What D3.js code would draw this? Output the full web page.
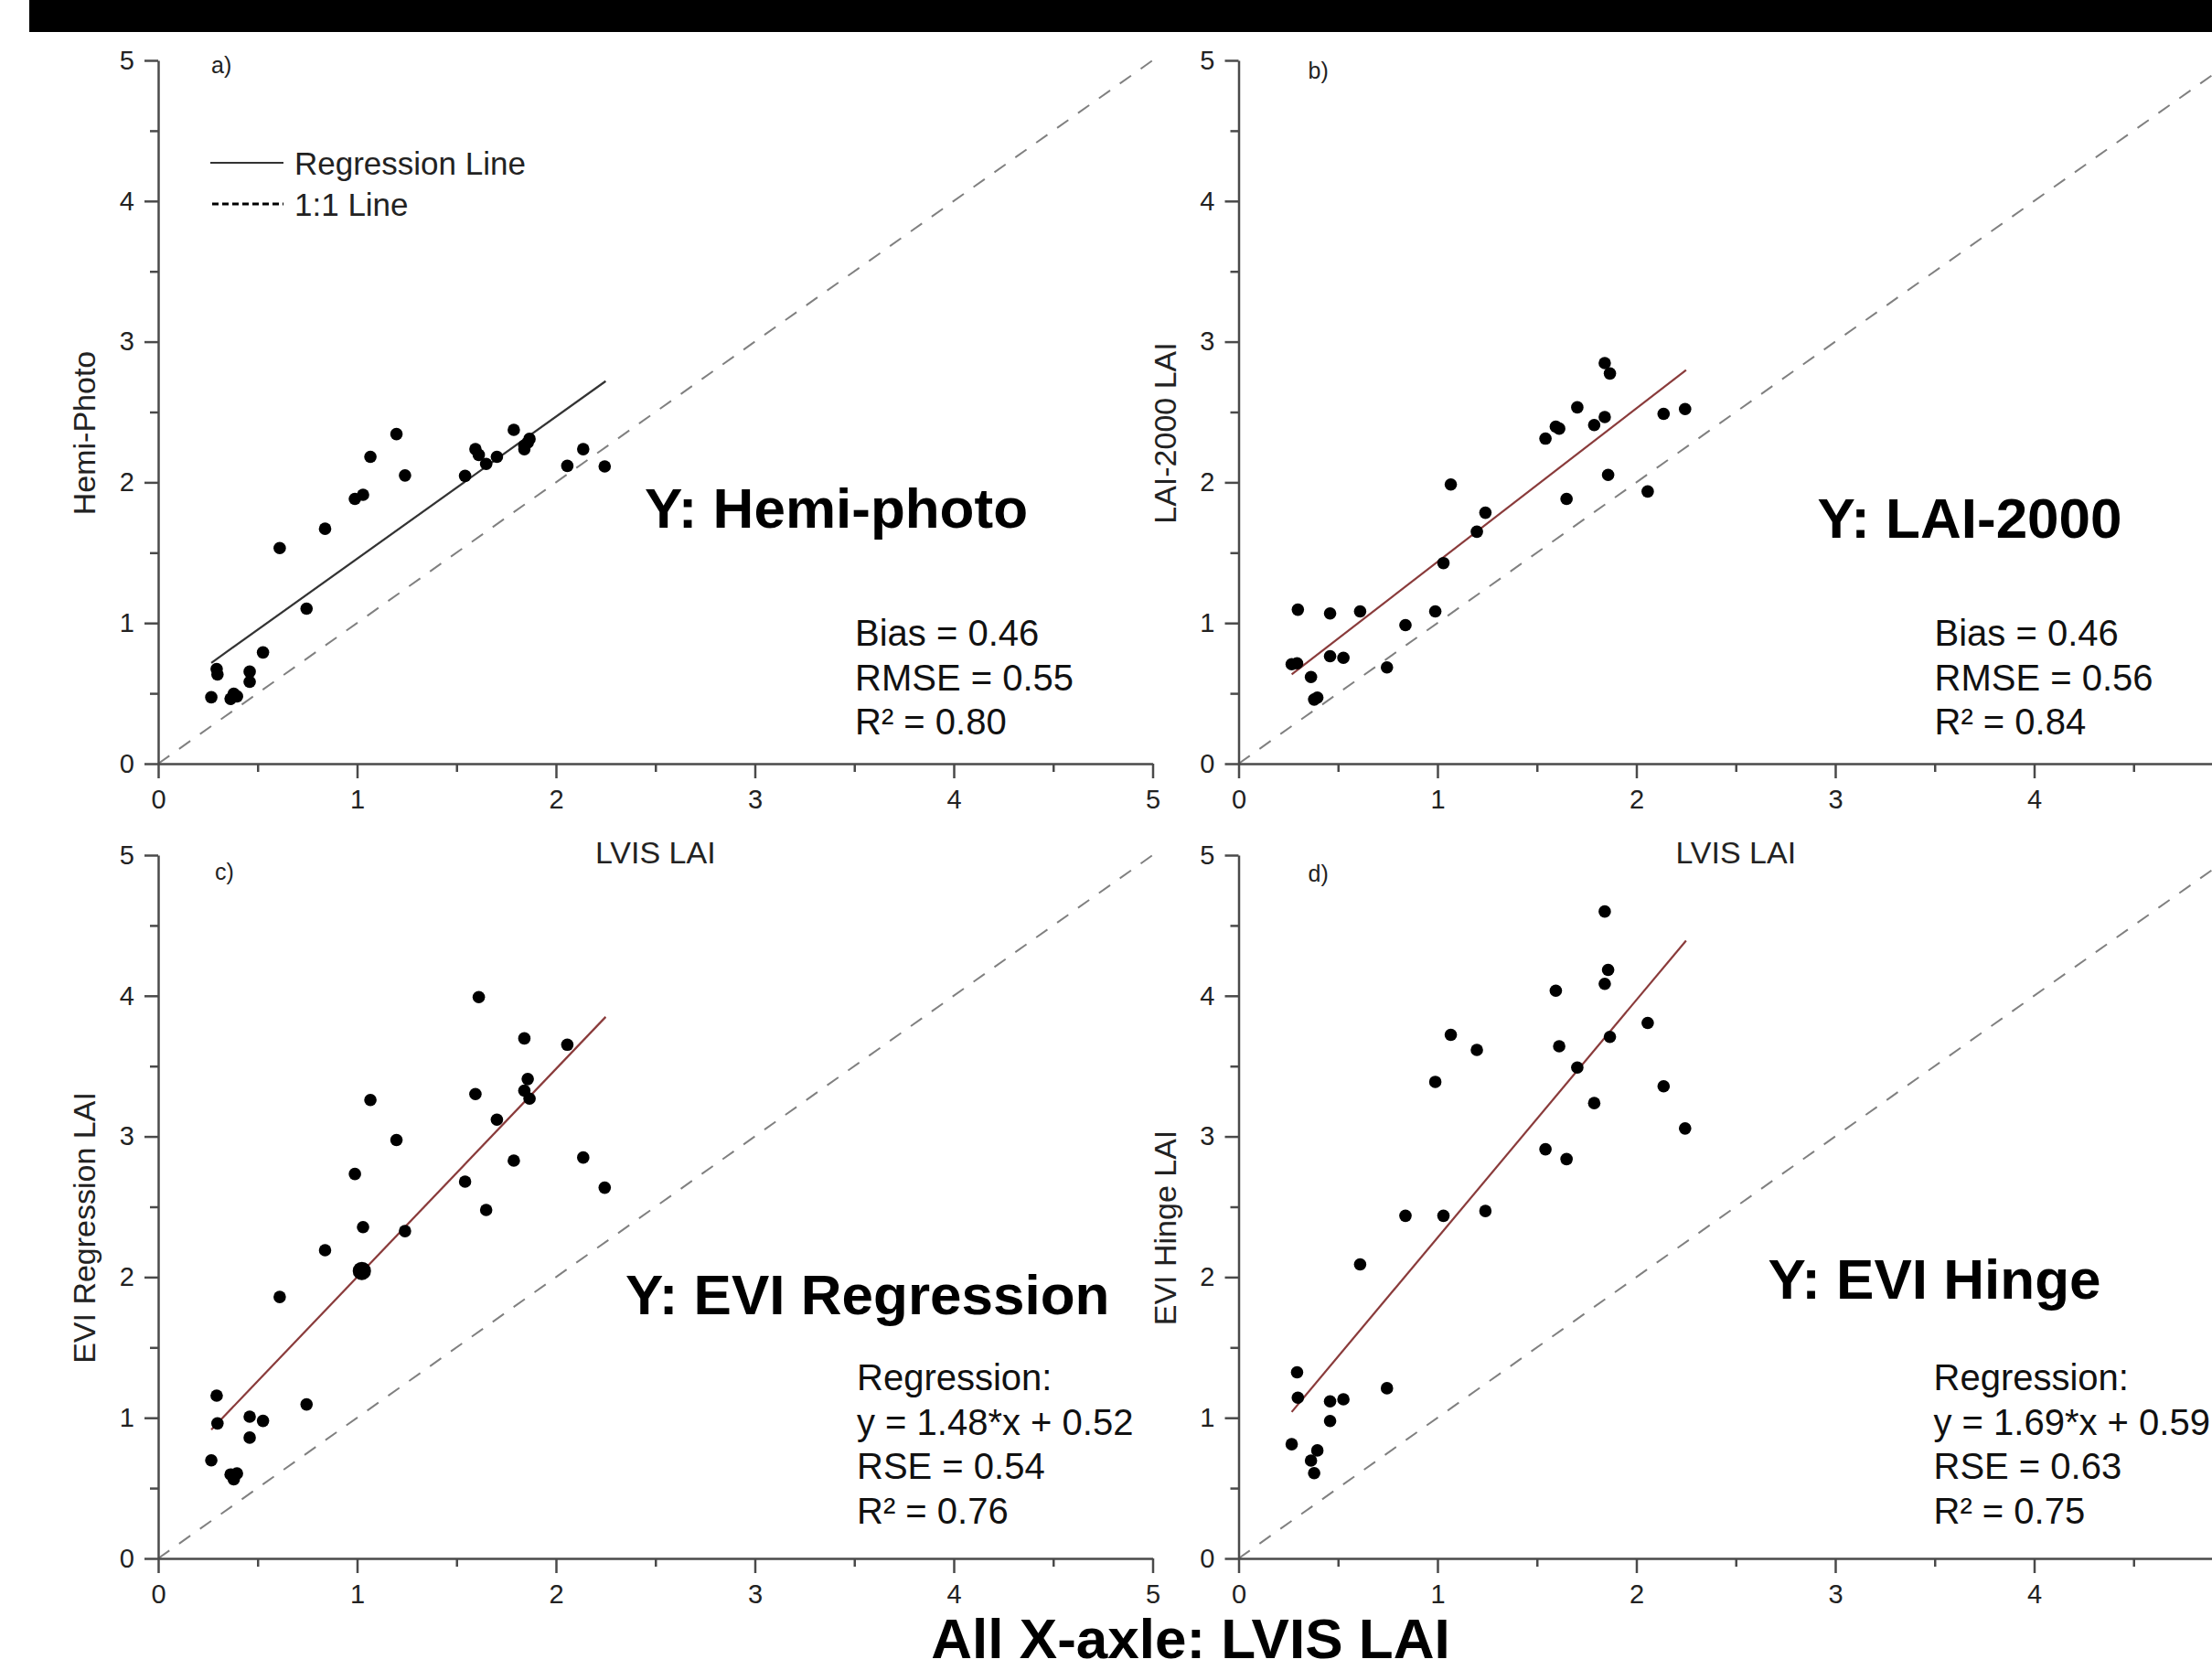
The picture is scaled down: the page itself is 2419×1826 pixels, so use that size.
<!DOCTYPE html>
<html>
<head>
<meta charset="utf-8">
<script src="https://cdn.jsdelivr.net/npm/d3@7"></script>
<style>
    html, body { margin: 0; padding: 0; background: #fff; }
    svg { display: block; font-family: 'Liberation Sans', Arial, sans-serif; }
</style>
</head>
<body>
<svg id="chart" width="2419" height="1826"></svg>
<script>
(function () {
    'use strict';

    // LVIS LAI (shared x of every panel)
    const lvis_lai = [0.267, 0.294, 0.298, 0.364, 0.380, 0.396, 0.460, 0.460, 0.527, 0.611,
        0.746, 0.839, 0.989, 1.030, 1.067, 1.198, 1.241, 1.543, 1.595, 1.612,
        1.649, 1.703, 1.788, 1.841, 1.841, 1.858, 1.867, 2.057, 2.137, 2.245];

    const hemi_photo = [0.472, 0.673, 0.634, 0.461, 0.497, 0.479, 0.654, 0.582, 0.791, 1.533,
        1.102, 1.670, 1.882, 1.912, 2.181, 2.343, 2.049, 2.046, 2.236, 2.195,
        2.131, 2.181, 2.373, 2.236, 2.260, 2.282, 2.309, 2.117, 2.236, 2.113];

    const lai_2000 = [0.707, 0.714, 1.095, 0.616, 0.456, 0.470, 1.068, 0.764, 0.753, 1.083,
        0.684, 0.985, 1.083, 1.426, 1.985, 1.649, 1.784, 2.311, 2.396, 2.382,
        1.882, 2.533, 2.407, 2.464, 2.848, 2.053, 2.774, 1.935, 2.487, 2.521];

    const evi_regression = [0.697, 1.157, 0.960, 0.597, 0.562, 0.604, 1.008, 0.859, 0.978, 1.859,
        1.095, 2.191, 2.733, 2.355, 3.259, 2.975, 2.327, 2.679, 3.301, 3.991,
        2.477, 3.119, 2.828, 3.697, 3.326, 3.408, 3.269, 3.652, 2.850, 2.636];

    const evi_hinge = [0.812, 1.323, 1.143, 0.696, 0.606, 0.768, 1.117, 0.977, 1.131, 2.090,
        1.210, 2.436, 3.388, 2.436, 3.722, 3.615, 2.470, 2.909, 4.036, 3.641,
        2.839, 3.490, 3.237, 4.599, 4.085, 4.184, 3.708, 3.807, 3.357, 3.057];

    // the one enlarged marker in panel c
    const evi_reg_big_x = [1.024];
    const evi_reg_big_y = [2.044];

    // regression fits: slope, intercept, x range
    const fit_slope = [1.01, 1.091, 1.48, 1.69];
    const fit_intercept = [0.447, 0.344, 0.52, 0.59];
    const fit_range = [0.267, 2.25];

    const major_ticks = [0, 1, 2, 3, 4, 5];
    const minor_ticks = [0.5, 1.5, 2.5, 3.5, 4.5];

    const stats_a = ['Bias = 0.46', 'RMSE = 0.55', 'R\u00b2 = 0.80'];
    const stats_b = ['Bias = 0.46', 'RMSE = 0.56', 'R\u00b2 = 0.84'];
    const stats_c = ['Regression:', 'y = 1.48*x + 0.52', 'RSE = 0.54', 'R\u00b2 = 0.76'];
    const stats_d = ['Regression:', 'y = 1.69*x + 0.59', 'RSE = 0.63', 'R\u00b2 = 0.75'];

    const legend_items = ['Regression Line', '1:1 Line'];

    const sv = d3.select('#chart');
    const sv_wi = 2419;
    const wi = 1087.5;
    const he = 769;
    const ax_co = '#4a4a4a';

    const x_sc = d3.scaleLinear().domain([0, 5]).range([0, wi]);
    const y_sc = d3.scaleLinear().domain([0, 5]).range([he, 0]);

    // top black band
    sv.append('rect')
        .attr('x', 32).attr('y', 0)
        .attr('width', sv_wi - 32).attr('height', 35)
        .attr('fill', '#000');

    const pa = [
        { id: 'a)', ys: hemi_photo, yl: 'Hemi-Photo', le: 173, bo: 835, lx: 58, ly: 14,
          fc: '#333', st: stats_a, sx: 762, sy: 706, ti: 'Y: Hemi-photo', tx: 532, ty: 577, xl: true },
        { id: 'b)', ys: lai_2000, yl: 'LAI-2000 LAI', le: 1354.5, bo: 835, lx: 76, ly: 20,
          fc: '#8a3b3b', st: stats_b, sx: 761, sy: 706, ti: 'Y: LAI-2000', tx: 633, ty: 588, xl: true },
        { id: 'c)', ys: evi_regression, yl: 'EVI Regression LAI', le: 173, bo: 1704, lx: 62, ly: 27,
          fc: '#8a3b3b', st: stats_c, sx: 764, sy: 1520, ti: 'Y: EVI Regression', tx: 511, ty: 1437, xl: false },
        { id: 'd)', ys: evi_hinge, yl: 'EVI Hinge LAI', le: 1354.5, bo: 1704, lx: 76, ly: 29,
          fc: '#8a3b3b', st: stats_d, sx: 760, sy: 1520, ti: 'Y: EVI Hinge', tx: 579, ty: 1420, xl: false }
    ];

    pa.forEach((p, pi) => {
        const gr = sv.append('g')
            .attr('transform', `translate(${p.le},${p.bo - he})`);

        // 1:1 line
        gr.append('line')
            .attr('x1', x_sc(0)).attr('y1', y_sc(0))
            .attr('x2', x_sc(5)).attr('y2', y_sc(5))
            .attr('stroke', '#808080')
            .attr('stroke-width', 2)
            .attr('stroke-dasharray', '15,13');

        // axes
        const x_mi = gr.append('g')
            .attr('transform', `translate(0,${he})`)
            .call(d3.axisBottom(x_sc).tickValues(minor_ticks).tickSize(9).tickFormat(''));
        const y_mi = gr.append('g')
            .call(d3.axisLeft(y_sc).tickValues(minor_ticks).tickSize(9).tickFormat(''));
        const x_ax = gr.append('g')
            .attr('transform', `translate(0,${he})`)
            .call(d3.axisBottom(x_sc).tickValues(major_ticks).tickFormat(d3.format('d'))
                .tickSize(16).tickSizeOuter(0).tickPadding(12));
        const y_ax = gr.append('g')
            .call(d3.axisLeft(y_sc).tickValues(major_ticks).tickFormat(d3.format('d'))
                .tickSize(15).tickSizeOuter(0).tickPadding(11));

        [x_mi, y_mi, x_ax, y_ax].forEach(a => {
            a.selectAll('path, line').attr('stroke', ax_co).attr('stroke-width', 2.5);
            a.selectAll('text')
                .attr('fill', '#222')
                .style('font-family', "'Liberation Sans', Arial, sans-serif")
                .style('font-size', '29px');
        });
        x_mi.select('.domain').remove();
        y_mi.select('.domain').remove();

        // tick labels that fall past the page edge are not shown in the original
        x_ax.selectAll('.tick')
            .filter(d => p.le + x_sc(d) > sv_wi)
            .select('text').remove();

        // regression line
        const sl = fit_slope[pi];
        const ic = fit_intercept[pi];
        gr.append('line')
            .attr('x1', x_sc(fit_range[0])).attr('y1', y_sc(sl * fit_range[0] + ic))
            .attr('x2', x_sc(fit_range[1])).attr('y2', y_sc(sl * fit_range[1] + ic))
            .attr('stroke', p.fc)
            .attr('stroke-width', 2.2);

        // points
        gr.selectAll('.pt')
            .data(lvis_lai.map((x, i) => ({ x: x, y: p.ys[i] })))
            .enter()
            .append('circle')
            .attr('class', 'pt')
            .attr('cx', d => x_sc(d.x))
            .attr('cy', d => y_sc(d.y))
            .attr('r', 6.8)
            .attr('fill', '#000');

        if (p.id === 'c)') {
            gr.selectAll('.pt-big')
                .data(evi_reg_big_x.map((x, i) => ({ x: x, y: evi_reg_big_y[i] })))
                .enter()
                .append('circle')
                .attr('class', 'pt-big')
                .attr('cx', d => x_sc(d.x))
                .attr('cy', d => y_sc(d.y))
                .attr('r', 10)
                .attr('fill', '#000');
        }

        // panel letter
        gr.append('text')
            .attr('x', p.lx)
            .attr('y', p.ly)
            .style('font-size', '25px')
            .attr('fill', '#222')
            .text(p.id);

        // y label
        gr.append('text')
            .attr('transform', `translate(-69,${he / 2 + 23}) rotate(-90)`)
            .attr('text-anchor', 'middle')
            .style('font-size', '34px')
            .attr('fill', '#222')
            .text(p.yl);

        // x label (top row only)
        if (p.xl) {
            gr.append('text')
                .attr('x', x_sc(2.5))
                .attr('y', he + 109)
                .attr('text-anchor', 'middle')
                .style('font-size', '34px')
                .attr('fill', '#222')
                .text('LVIS LAI');
        }

        // statistics
        gr.append('g')
            .selectAll('text')
            .data(p.st)
            .enter()
            .append('text')
            .attr('x', p.sx)
            .attr('y', (d, i) => p.sy - (p.bo - he) + i * 48.5)
            .style('font-size', '40px')
            .attr('fill', '#111')
            .text(d => d);

        // big bold annotation
        gr.append('text')
            .attr('x', p.tx)
            .attr('y', p.ty - (p.bo - he))
            .style('font-size', '62px')
            .style('font-weight', 'bold')
            .attr('fill', '#000')
            .text(p.ti);
    });

    // legend in panel a
    const le = sv.append('g').attr('transform', 'translate(230,0)');
    const le_it = le.selectAll('.legend-item')
        .data(legend_items)
        .enter()
        .append('g')
        .attr('class', 'legend-item')
        .attr('transform', (d, i) => `translate(0,${178 + i * 45})`);

    le_it.append('line')
        .attr('x1', (d, i) => i === 0 ? 0 : 2)
        .attr('x2', 80)
        .attr('y1', 0).attr('y2', 0)
        .attr('stroke', (d, i) => i === 0 ? '#333' : '#000')
        .attr('stroke-width', (d, i) => i === 0 ? 2 : 3)
        .attr('stroke-dasharray', (d, i) => i === 0 ? null : '7,4');

    le_it.append('text')
        .attr('x', 92)
        .attr('y', 13)
        .style('font-size', '35px')
        .attr('fill', '#222')
        .text(d => d);

    // shared x title
    sv.append('text')
        .attr('x', 1302)
        .attr('y', 1813)
        .attr('text-anchor', 'middle')
        .style('font-size', '62px')
        .style('font-weight', 'bold')
        .attr('fill', '#000')
        .text('All X-axle: LVIS LAI');

})();
</script>
</body>
</html>
